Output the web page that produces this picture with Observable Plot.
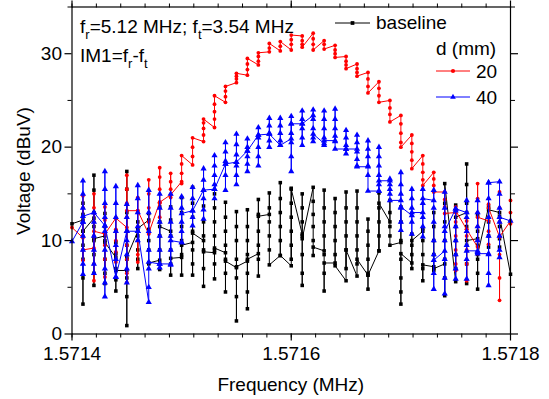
<!DOCTYPE html>
<html><head><meta charset="utf-8">
<script src="https://cdn.jsdelivr.net/npm/d3@7"></script>
<script src="https://cdn.jsdelivr.net/npm/@observablehq/plot@0.6"></script>
<style>body{margin:0;background:#fff} svg{display:block}</style>
</head><body><div id="chart"></div>
<script>
// Frequency columns (MHz)
const freqs = [1.57140,1.57141,1.57142,1.57143,1.57144,1.57145,1.57146,1.57147,1.57148,1.57149,
  1.57150,1.57151,1.57152,1.57153,1.57154,1.57155,1.57156,1.57157,1.57158,1.57159,
  1.57160,1.57161,1.57162,1.57163,1.57164,1.57165,1.57166,1.57167,1.57168,1.57169,
  1.57170,1.57171,1.57172,1.57173,1.57174,1.57175,1.57176,1.57177,1.57178,1.57179,1.57180];
const xTickValues = [1.5714, 1.5716, 1.5718];
const xTickLabels = ["1.5714", "1.5716", "1.5718"];
const yTickValues = [0, 10, 20, 30];
const yMinorValues = [5, 15, 25, 35];

// Voltage (dBuV), repeated readings per frequency, in drawing order
const baselineVals = [
 [11.8],
 [12.2,14.0,12.8,11.0,9.5,8.0,6.0,3.2,11.0],
 [12.4,17.0,15.4,13.0,11.5,10.0,8.5,6.5,5.2,10.2],
 [10.5,12.9,11.5,10.0,8.0,6.5,5.4,9.8],
 [8.2,11.0,9.8,8.6,7.0,5.8,4.6,6.8],
 [6.8,17.4,15.5,13.0,11.0,9.5,8.0,6.0,4.0,0.9,8.2],
 [11.0,12.0,10.5,9.0,8.0,7.0,11.3],
 [12.2,12.9,11.2,10.0,9.0,7.5,7.6],
 [7.9,13.6,12.0,10.5,9.0,7.5,6.9,11.5],
 [11.0,13.6,12.2,10.5,9.0,7.5,6.3,8.1],
 [8.2,14.6,13.0,11.5,10.0,8.5,6.3,9.5],
 [9.8,15.7,14.0,12.5,11.0,9.0,7.5,6.3,10.8],
 [10.0,13.7,12.0,10.5,9.0,7.0,5.1,8.8],
 [8.7,15.0,13.5,12.0,10.5,9.0,7.5,5.9,9.2],
 [8.7,14.1,12.5,11.0,9.5,8.0,6.5,4.5,7.8],
 [7.1,13.1,11.5,10.0,8.0,6.0,4.0,1.4,7.2],
 [7.8,13.3,11.5,10.0,8.5,6.5,4.5,2.7,8.0],
 [8.6,14.4,12.8,11.0,9.5,8.0,6.2,12.6],
 [12.8,15.1,13.5,12.0,10.5,9.0,7.4],
 [8.4,16.2,14.5,13.0,11.5,10.0,8.4],
 [7.3,15.6,14.0,12.5,11.0,9.5,8.0,15.5],
 [10.7,15.0,13.5,12.0,10.5,8.5,6.5,5.2,10.2],
 [15.7,14.2,12.8,11.5,10.0,8.4,9.3],
 [8.9,15.4,13.5,12.0,10.5,8.5,6.5,4.6,7.6],
 [7.6,14.5,13.0,11.5,10.0,8.5,7.3],
 [5.7,15.2,13.5,12.0,10.5,9.0,7.0,9.0],
 [6.2,15.3,13.5,12.0,10.5,9.0,7.5,8.0],
 [6.3,12.3,11.0,9.5,8.0,6.5,4.8,6.3],
 [8.9,15.1,13.5,12.0,10.5,8.9,14.0],
 [12.0,14.3,13.0,11.5,10.5,9.5],
 [9.8,13.6,12.0,10.0,8.0,6.0,4.5,3.2,8.6],
 [7.6,10.7,9.5,8.5,7.0,10.0],
 [11.0,11.3,10.0,8.5,7.0,5.7,7.4],
 [7.2,13.0,11.5,10.0,8.5,6.8,7.0],
 [7.5,4.1,6.0,8.0,10.0,12.0,14.0,16.1],
 [5.6,7.0,8.5,10.0,11.5,13.8,12.5],
 [13.0,18.2,16.0,14.0,11.5,9.5,7.5,5.4,10.0],
 [10.2,12.7,11.0,9.5,8.0,6.5,4.8,8.5],
 [13.6,12.0,10.5,9.3,13.3],
 [13.0,11.5,10.2,9.3,12.6],
 [6.4]
];
const d20Vals = [
 [11.4],
 [10.3,14.8,13.5,12.0,10.5,9.0,7.9,9.0],
 [9.2,15.0,13.5,12.0,10.5,9.0,7.5,5.7,11.0],
 [10.7,13.6,12.2,10.8,9.5,8.0,6.1,10.7],
 [12.4,11.2,10.0,8.8,7.7,12.4],
 [11.4,17.0,15.5,14.0,12.5,11.0,9.5,8.0,6.5,5.5,13.2],
 [13.2,14.6,13.0,11.5,10.0,8.5,7.7,13.2],
 [10.7,16.5,15.0,13.5,12.0,10.8],
 [14.1,17.8,16.8,15.5,14.0,12.5,14.1],
 [14.9,17.2,16.3,15.5,14.6,14.9],
 [16.3,16.1,17.2,18.2,19.1],
 [18.1,19.0,20.0,21.0],
 [20.6,21.3,22.0,22.6,23.0],
 [22.1,23.0,23.8,24.6,25.5],
 [24.8,25.4,26.0,26.5],
 [26.9,27.3,27.6,27.9],
 [27.7,28.3,28.9,29.5],
 [28.8,29.2,29.7,30.1],
 [30.2,30.6,31.1],
 [30.3,30.8,31.3],
 [30.4,31.0,31.5,32.0],
 [31.9,31.4,31.0,30.7],
 [32.2,31.6,31.0,30.4],
 [31.4,31.0,30.5],
 [30.9,30.4,30.0,29.6],
 [29.7,29.2,28.8,28.4],
 [28.9,28.4,28.0,27.6],
 [28.0,27.3,26.5,25.8],
 [27.0,26.3,25.5,24.8],
 [25.0,24.2,23.5,22.7],
 [23.4,22.5,21.5,20.5,20.0],
 [21.3,20.4,19.5,18.6,17.7],
 [19.1,18.2,17.3,16.5,15.9],
 [17.3,16.6,15.9,15.2],
 [15.2,14.4,13.6,12.9],
 [13.0,13.6,12.0,10.5,9.0,7.5,6.8,13.2],
 [11.2,12.1,10.5,9.0,7.5,5.7,11.2],
 [9.3,16.1,14.5,13.0,11.5,10.0,8.6,12.5],
 [12.1,13.9,12.5,11.0,9.6,13.5],
 [10.4,15.2,13.5,12.0,10.5,8.5,6.0,3.6,10.4],
 [12.1,14.3,13.0,11.8]
];
const d40Vals = [
 [9.9],
 [12.0,16.4,15.0,13.5,12.0,10.5,9.0,7.5,6.4,12.6],
 [13.0,12.0,10.5,9.0,7.5,6.5,13.0],
 [11.6,17.4,15.5,14.0,12.5,11.0,9.0,7.0,5.5,4.0,11.6],
 [6.1,15.8,14.0,12.5,11.0,9.5,8.0,6.1],
 [11.0,13.9,12.5,10.0,8.5,7.0,5.5,11.0],
 [11.0,15.9,14.5,13.0,11.5,10.0,11.0],
 [3.4,5.0,7.0,9.0,11.0,13.0,15.4,7.7],
 [7.5,15.0,13.5,12.0,10.5,9.0,7.1,7.5],
 [7.5,15.0,13.5,12.0,10.5,9.0,7.4,10.0],
 [9.8,14.7,13.5,12.0,11.0,9.8,12.9],
 [13.2,15.7,14.5,12.5,11.6,13.2],
 [15.4,17.7,16.5,14.5,13.3,12.3,15.4],
 [15.5,19.1,18.0,17.0,16.0,14.5,15.5],
 [18.2,20.5,19.5,18.5,17.0,15.4,18.2],
 [18.4,21.4,20.3,19.2,18.0,17.0,16.0,18.4],
 [19.6,20.9,20.0,19.0,18.2,17.4,19.6],
 [21.3,22.1,21.0,20.0,19.0,18.0,21.3],
 [21.4,23.1,22.3,21.5,20.7,20.0,21.4],
 [20.2,23.1,22.3,21.5,20.7,20.2],
 [20.9,23.3,22.5,21.5,20.5,19.0,17.4,22.5],
 [22.5,23.9,23.0,22.0,21.0,20.2,22.5],
 [23.4,24.0,23.0,22.0,21.0,20.6,21.4],
 [20.4,23.9,23.0,22.0,21.0,20.2,20.7],
 [20.7,24.1,23.0,22.0,21.2,20.6,19.8],
 [19.8,21.8,21.0,20.2,19.3,19.8],
 [19.8,21.3,20.5,19.5,18.7,18.0,17.9],
 [17.9,20.7,19.8,19.0,18.0,17.0,15.3],
 [15.3,20.0,19.0,18.0,17.0,16.0,15.3,16.4],
 [16.4,16.6,16.0,15.5,15.0,14.3],
 [14.3,17.3,16.0,15.0,13.5,12.0,11.1,13.6],
 [12.7,15.5,14.5,13.5,12.0,10.7,13.0],
 [13.0,15.5,14.0,12.5,11.5,10.4,14.5],
 [14.3,15.4,13.5,12.0,10.0,8.5,6.5,4.8,7.9],
 [8.9,15.2,13.5,11.5,10.0,8.0,6.0,4.3,11.0],
 [13.4,13.2,11.5,10.0,8.5,7.0,5.9,13.4],
 [13.0,14.3,12.5,11.0,9.5,8.0,5.9,8.9],
 [8.9,14.3,13.0,11.5,10.0,8.75,8.6],
 [8.6,16.2,14.5,12.5,10.5,8.5,6.5,5.2,16.2],
 [16.3,15.0,13.5,12.0,10.5,9.0,8.2,12.5],
 [12.1]
];
const seriesNames = ["baseline", "20", "40"];
const seriesColors = ["#000000", "#ff0000", "#0000ff"];
const seriesSymbols = ["square", "circle", "triangle"];

function toRows(cols) {
  const out = [];
  cols.forEach((vals, i) => vals.forEach(v => out.push({f: freqs[i], v})));
  return out;
}
const rowsBase = toRows(baselineVals), rows20 = toRows(d20Vals), rows40 = toRows(d40Vals);

// minor x ticks: 8 minor ticks between majors
const xMinor = [];
for (let k = 0; k <= 18; k++) xMinor.push(1.5714 + k * 0.0004 / 18);

const FONT = "'Liberation Sans', Arial, Helvetica, sans-serif";
const W = 549, H = 399;
const mL = 71.5, mR = 39, mT = 6.5, mB = 65.5;

function seriesMarks(rows, i, r) {
  return [
    Plot.line(rows, {x: "f", y: "v", stroke: seriesColors[i], strokeWidth: 1}),
    Plot.dot(rows, {x: "f", y: "v", symbol: () => seriesSymbols[i], fill: seriesColors[i], stroke: "none", r})
  ];
}

const chart = Plot.plot({
  width: W, height: H,
  marginLeft: mL, marginRight: mR, marginTop: mT, marginBottom: mB,
  style: {fontFamily: FONT, fontSize: "19px", color: "black", background: "white", overflow: "visible"},
  symbol: {type: "identity"},
  x: {domain: [1.5714, 1.5718]},
  y: {domain: [0, 35]},
  marks: [
    ...seriesMarks(rowsBase, 0, 2.0),
    ...seriesMarks(rows20, 1, 1.9),
    ...seriesMarks(rows40, 2, 2.3),
    Plot.frame({stroke: "black", strokeWidth: 1.2}),
    Plot.axisX({ticks: xTickValues, tickSize: 7, tickPadding: 5, tickFormat: (d, i) => xTickLabels[i], fontSize: 19, label: null, strokeWidth: 1.2}),
    Plot.axisX({ticks: xMinor, tickSize: 4, text: null, label: null}),
    Plot.axisX({anchor: "top", ticks: xTickValues, tickSize: 7, text: null, label: null, strokeWidth: 1.2}),
    Plot.axisX({anchor: "top", ticks: xMinor, tickSize: 4, text: null, label: null}),
    Plot.axisY({ticks: yTickValues, tickSize: 7, tickPadding: 3, fontSize: 19, label: null, strokeWidth: 1.2}),
    Plot.axisY({ticks: yMinorValues, tickSize: 4, text: null, label: null}),
    Plot.axisY({anchor: "right", ticks: yTickValues, tickSize: 7, text: null, label: null, strokeWidth: 1.2}),
    Plot.axisY({anchor: "right", ticks: yMinorValues, tickSize: 4, text: null, label: null})
  ]
});
document.getElementById("chart").appendChild(chart);

// Titles, annotations and legend
const svg = d3.select(chart);
const g = svg.append("g").attr("font-family", FONT).attr("fill", "black").attr("text-anchor", "start");
g.append("text").attr("x", (mL + W - mR) / 2).attr("y", 391).attr("text-anchor", "middle")
  .attr("font-size", 19).text("Frequency (MHz)");
g.append("text").attr("transform", "translate(30,171) rotate(-90)").attr("text-anchor", "middle")
  .attr("font-size", 19).text("Voltage (dBuV)");

function subText(x, y, parts) {
  const t = g.append("text").attr("x", x).attr("y", y).attr("font-size", 19).attr("text-anchor", "start");
  parts.forEach(p => {
    if (p.sub) t.append("tspan").attr("dy", 6).attr("font-size", 13).text(p.t);
    else t.append("tspan").attr("dy", p.after ? -6 : 0).text(p.t);
  });
}
subText(80, 33, [{t: "f"}, {t: "r", sub: true}, {t: "=5.12 MHz; f", after: true}, {t: "t", sub: true}, {t: "=3.54 MHz", after: true}]);
subText(80, 62, [{t: "IM1=f"}, {t: "r", sub: true}, {t: "-f", after: true}, {t: "t", sub: true}]);

const legend = [
  {label: "baseline", i: 0, x0: 335, x1: 370, y: 23, tx: 376, ty: 29},
  {label: "20", i: 1, x0: 436, x1: 470, y: 71, tx: 476, ty: 78},
  {label: "40", i: 2, x0: 436, x1: 470, y: 97, tx: 476, ty: 104}
];
g.append("text").attr("x", 436).attr("y", 55).attr("font-size", 19).attr("text-anchor", "start").text("d (mm)");
legend.forEach(L => {
  g.append("line").attr("x1", L.x0).attr("x2", L.x1).attr("y1", L.y).attr("y2", L.y)
    .attr("stroke", seriesColors[L.i]).attr("stroke-width", 1);
  g.append("path").attr("d", d3.symbol(d3["symbol" + seriesSymbols[L.i][0].toUpperCase() + seriesSymbols[L.i].slice(1)], 14)())
    .attr("transform", `translate(${(L.x0 + L.x1) / 2},${L.y})`).attr("fill", seriesColors[L.i]);
  g.append("text").attr("x", L.tx).attr("y", L.ty).attr("font-size", 19).attr("text-anchor", "start").text(L.label);
});
</script>
</body></html>
